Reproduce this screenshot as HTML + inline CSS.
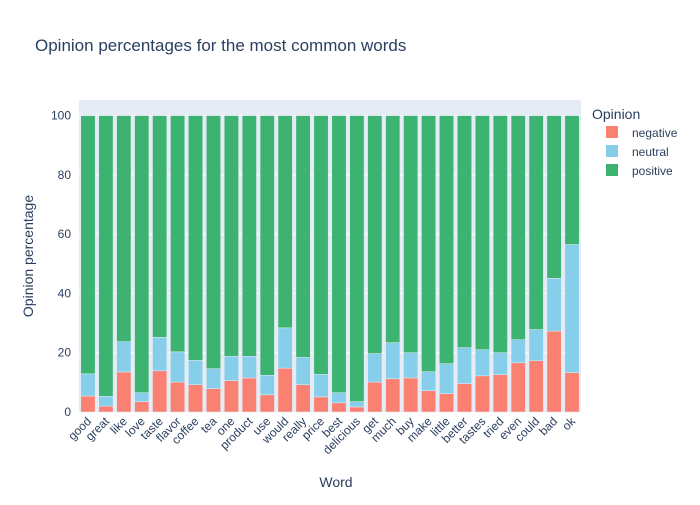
<!DOCTYPE html>
<html><head><meta charset="utf-8"><style>
body{margin:0;background:#fff;font-family:"Liberation Sans",Arial,sans-serif;}
</style></head><body>
<svg id="chart" width="700" height="500" xmlns="http://www.w3.org/2000/svg">
<rect width="700" height="500" fill="#fff"/>
<text x="35" y="51" font-size="17" fill="#2a3f5f">Opinion percentages for the most common words</text>
<rect x="79" y="100" width="502" height="312" fill="#e5ecf6"/>
<g id="grid"></g><g id="bars"></g><g id="yticks"></g><g id="xticks"></g>
<text x="336" y="487" font-size="14" fill="#2a3f5f" text-anchor="middle">Word</text>
<text transform="translate(33,256) rotate(-90)" font-size="14" fill="#2a3f5f" text-anchor="middle">Opinion percentage</text>
<g>
<text x="592" y="119" font-size="14" fill="#2a3f5f">Opinion</text>
<g><rect x="606" y="126" width="12" height="12" fill="#fa8072"/><text x="632" y="137" font-size="12" fill="#2a3f5f">negative</text></g>
<g><rect x="606" y="145" width="12" height="12" fill="#87ceeb"/><text x="632" y="156" font-size="12" fill="#2a3f5f">neutral</text></g>
<g><rect x="606" y="164" width="12" height="12" fill="#3cb371"/><text x="632" y="175" font-size="12" fill="#2a3f5f">positive</text></g>
</g>
</svg>
<script>
const categories=["good","great","like","love","taste","flavor","coffee","tea","one","product","use","would","really","price","best","delicious","get","much","buy","make","little","better","tastes","tried","even","could","bad","ok"];
const negative=[5.4,2.0,13.5,3.5,13.9,10.1,9.2,7.9,10.6,11.5,5.8,14.8,9.2,5.1,3.1,1.7,10.1,11.2,11.5,7.2,6.2,9.6,12.2,12.6,16.6,17.3,27.3,13.3];
const neutral=[7.5,3.3,10.2,3.0,11.3,10.2,8.2,6.7,8.2,7.3,6.6,13.6,9.2,7.6,3.4,1.8,9.6,12.2,8.5,6.4,10.1,12.1,8.8,7.4,7.8,10.5,17.8,43.2];
const positive=[87.1,94.7,76.3,93.5,74.8,79.7,82.6,85.4,81.2,81.2,87.6,71.6,81.6,87.3,93.5,96.5,80.3,76.6,80.0,86.4,83.7,78.3,79.0,80.0,75.6,72.2,54.9,43.5];
const yTicks=[0,20,40,60,80,100];
const NS="http://www.w3.org/2000/svg";
const X0=79,X1=581,Y0=412,YT=100,YMAX=105.26;
const step=(X1-X0)/categories.length,bw=step*0.8;
const xc=i=>X0+step*(i+0.5);
const y=v=>Y0-(v/YMAX)*(Y0-YT);
function mk(tag,attrs,parent){const e=document.createElementNS(NS,tag);for(const k in attrs)e.setAttribute(k,attrs[k]);document.getElementById(parent).appendChild(e);return e;}
yTicks.forEach(t=>{
  if(t>0){const l=mk('line',{x1:X0,x2:X1,y1:y(t),y2:y(t),stroke:'#fff','stroke-width':1},'grid');
  
  }
  const tx=mk('text',{x:X0-8,y:y(t)+4,'font-size':12,fill:'#2a3f5f','text-anchor':'end'},'yticks');tx.textContent=t;
  
  
});
const series=[["negative",negative,"#fa8072"],["neutral",neutral,"#87ceeb"],["positive",positive,"#3cb371"]];
categories.forEach((c,i)=>{
  let base=0;
  series.forEach(([n,vals,col])=>{
    const v=vals[i];
    const r=mk('rect',{x:xc(i)-bw/2,y:y(base+v),width:bw,height:y(base)-y(base+v),fill:col,stroke:'#e5ecf6','stroke-width':0.5},'bars');
    
    
    base+=v;
  });
  const t=mk('text',{transform:`translate(${xc(i)+4},${Y0+10}) rotate(-45)`,'font-size':12,fill:'#2a3f5f','text-anchor':'end'},'xticks');t.textContent=c;
  
  
});
</script>
</body></html>
